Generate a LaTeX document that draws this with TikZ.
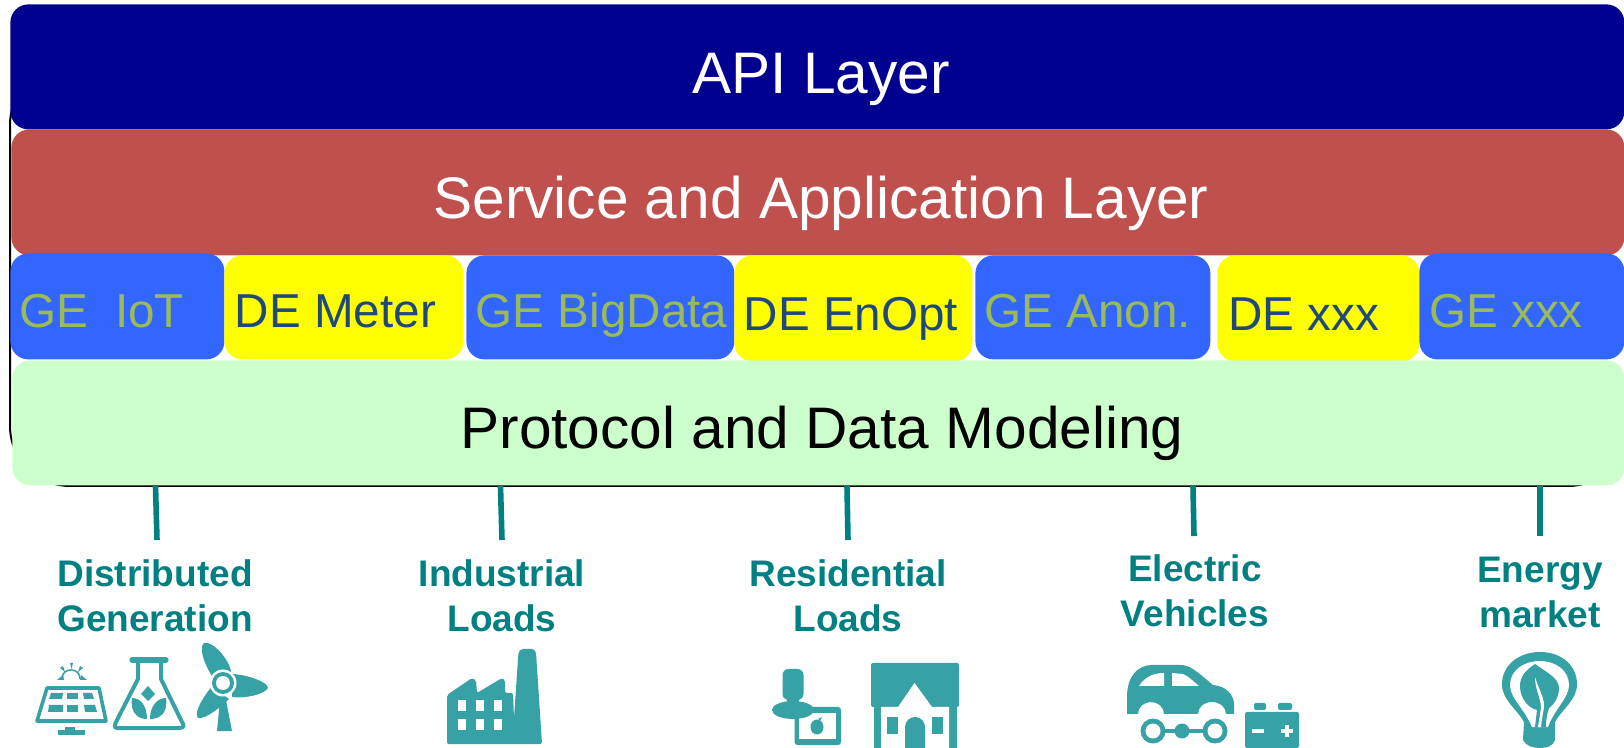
\documentclass[tikz,border=0pt]{standalone}
\usepackage{fontspec}
\setmainfont{Liberation Sans}
\definecolor{apiblue}{HTML}{000090}
\definecolor{svcred}{HTML}{C0504D}
\definecolor{geblue}{HTML}{3366FF}
\definecolor{deyellow}{HTML}{FFFF00}
\definecolor{protogreen}{HTML}{CCFFCC}
\definecolor{getext}{HTML}{9BBB59}
\definecolor{detext}{HTML}{1F497D}
\definecolor{teal1}{HTML}{008080}
\definecolor{icon}{HTML}{36A2A6}
\newcommand{\fs}[1]{\fontsize{#1}{#1}\selectfont}
\tikzset{
  x=0.5pt,y=-0.5pt,
  layer/.style={rectangle,rounded corners=9pt,inner sep=0pt,draw=none,minimum width=1pt},
  bigtext/.style={anchor=base,inner sep=0pt,font=\fs{29.3}},
  rowge/.style={anchor=base west,inner sep=0pt,font=\fs{23.8},text=getext},
  rowde/.style={anchor=base west,inner sep=0pt,font=\fs{23.8},text=detext},
  loadlabel/.style={align=center,inner sep=0pt,anchor=base,font=\fs{18.5}\bfseries,text=teal1},
  feeder/.style={draw=teal1,line width=2.8pt},
  icl/.style={draw=icon,fill=none,line width=2pt}
}
\newcommand{\layerbox}[6]{\node[layer,fill=#6,minimum width=#4*0.5pt,minimum height=#5*0.5pt,anchor=north west] (#1) at (#2,#3) {};}
\begin{document}
\begin{tikzpicture}
\useasboundingbox (0,0) rectangle (1624,748);
% outline behind the layers
\node[rectangle,draw=black,line width=1pt,rounded corners=30pt,fill=white,minimum width=1618*0.5pt,minimum height=421*0.5pt,anchor=north west,inner sep=0pt] (frame) at (9,64) {};
% layers
\layerbox{api}{10}{4}{1614}{125}{apiblue}
\layerbox{svc}{11}{129}{1613}{126}{svcred}
\layerbox{geiot}{10}{253}{214}{106}{geblue}
\layerbox{demeter}{224}{255}{239}{104}{deyellow}
\layerbox{gebig}{466}{255}{268}{104}{geblue}
\layerbox{deenopt}{734}{255}{238}{106}{deyellow}
\layerbox{geanon}{975}{255}{235}{104}{geblue}
\layerbox{dexxx}{1217}{255}{202}{106}{deyellow}
\layerbox{gexxx}{1419}{253}{205}{106}{geblue}
\layerbox{proto}{12}{360}{1612}{125}{protogreen}
% layer texts
\node[bigtext,text=white] (tapi) at (821,94) {API Layer};
\node[bigtext,text=white] (tsvc) at (821,219) {Service and Application Layer};
\node[bigtext,text=black] (tproto) at (822,449) {Protocol and Data Modeling};
\node[rowge] (t1) at (19.5,328) {GE\ \ IoT};
\node[rowde] (t2) at (234.5,328) {DE Meter};
\node[rowge] (t3) at (475.5,328) {GE BigData};
\node[rowde] (t4) at (743.5,331) {DE EnOpt};
\node[rowge] (t5) at (984,328) {GE Anon.};
\node[rowde] (t6) at (1228,331) {DE xxx};
\node[rowge] (t7) at (1429,328) {GE xxx};
% load labels
\node[loadlabel] (l1) at (155,632) {Distributed\\[4.3pt]Generation};
\node[loadlabel] (l2) at (502,632) {Industrial\\[4.3pt]Loads};
\node[loadlabel] (l3) at (848,632) {Residential\\[4.3pt]Loads};
\node[loadlabel] (l4) at (1195,627) {Electric\\[4.3pt]Vehicles};
\node[loadlabel] (l5) at (1540,628) {Energy\\[4.3pt]market};
% feeders
\coordinate (c1) at (155.5,486); \coordinate (d1) at (157,540);
\coordinate (c2) at (500.5,486); \coordinate (d2) at (502,540);
\coordinate (c3) at (847,486); \coordinate (d3) at (848,540);
\coordinate (c4) at (1193,486); \coordinate (d4) at (1194,536);
\coordinate (c5) at (1540,486); \coordinate (d5) at (1540,536);
\foreach \n in {1,...,5} \draw[feeder] (c\n) -- (d\n);
% solar panel
\draw[icl,line join=round,line width=1.8pt] (47,688) -- (99,688) -- (106,721) -- (37,721) -- cycle;
\foreach \xa/\xb/\xc/\xd/\ya/\yb in {51/63/62/49/693/699, 67/78/78/67/693/699, 83/92/94/84/693/699, 49/63/63/48/705/712, 67/78/78/67/705/712, 84/95/97/85/705/712}
  \fill[icon] (\xa,\ya) -- (\xb,\ya) -- (\xc,\yb) -- (\xd,\yb) -- cycle;
\fill[icon] (58,730) rectangle (85,735);
\fill[icon] (65,727) rectangle (75,731);
\draw[icon,line width=.8pt] (62,679) .. controls (62,673) and (66,670) .. (71,670) .. controls (76,670) and (80,673) .. (80,679);
\fill[icon] (70,663) -- (73,663) -- (71.5,669) -- cycle;
\fill[icon] (60,668) -- (63,666) -- (65,672) -- cycle;
\fill[icon] (80,666) -- (83,668) -- (78,672) -- cycle;
\fill[icon] (57,680) -- (63,675) -- (64,680) -- cycle;
\fill[icon] (87,680) -- (81,675) -- (80,680) -- cycle;
% flask
\draw[icl,line width=2pt,line join=round] (138,660) -- (138,679) -- (116,722) .. controls (113,729) and (116,728) .. (121,728) -- (178,728) .. controls (184,728) and (185,726) .. (182,722) -- (161,679) -- (161,660);
\draw[icon,line width=2.6pt,line cap=round] (132,660) -- (166,660);
\fill[icon] (148,686) -- (155,694) -- (148,701) -- (141,694) -- cycle;
\fill[icon] (132,698) .. controls (140,698) and (147,705) .. (147,719) .. controls (138,719) and (130,713) .. (132,698) -- cycle;
\fill[icon] (166,698) .. controls (158,698) and (150,705) .. (150,719) .. controls (160,719) and (168,713) .. (166,698) -- cycle;
% wind turbine
\fill[icon] (217,731) -- (220,700) -- (226,700) -- (232,731) -- cycle;
\fill[icon] (212,676) .. controls (203,662) and (199,647) .. (204,643) .. controls (212,640) and (230,660) .. (231,672) -- cycle;
\fill[icon] (233,674) .. controls (248,675) and (268,682) .. (268,688) .. controls (265,694) and (245,699) .. (232,697) -- cycle;
\fill[icon] (212,686) .. controls (205,695) and (193,712) .. (198,718) .. controls (205,720) and (222,706) .. (229,699) -- cycle;
\fill[white] (223,683) circle[radius=13.5];
\fill[icon] (223,683) circle[radius=11];
\fill[white] (223,683) circle[radius=7];
% factory
\fill[icon,rounded corners=1pt] (447,744) -- (447,695) -- (472,678) -- (476,680) -- (477,693) -- (502,678) -- (505,680) -- (505,693) -- (513,693) -- (514,718) -- (518.5,652) -- (521,649) -- (534,649) -- (536,652) -- (542,744) -- cycle;
\foreach \wx in {458,476,494} \foreach \wy in {700,719} \fill[white] (\wx,\wy) rectangle +(8,11);
% person with tablet
\fill[icon,rounded corners=3pt] (782.5,669) rectangle (803.5,700);
\fill[icon] (787,695) rectangle (799,705);
\fill[icon,rounded corners=1.5pt] (794.5,707) rectangle (841,745);
\fill[white] (799,713) rectangle (836,739);
\fill[icon] (793,710) ellipse[x radius=21,y radius=9];
\fill[icon] (817,727) ellipse[x radius=6.5,y radius=7.5];
\fill[icon] (818,719) -- (822,717) -- (820,721) -- cycle;
% house
\fill[icon,rounded corners=1pt] (871,663) rectangle (959,707);
\fill[icon] (874,705) rectangle (957,748);
\fill[white] (881,707) -- (898,707) -- (914.5,683) -- (932,707) -- (949,707) -- (949,748) -- (881,748) -- cycle;
\fill[icon] (887,717) rectangle (898,734);
\fill[icon] (932,717) rectangle (943,734);
\fill[icon] (905,748) -- (905,727) .. controls (905,721.5) and (909.5,717) .. (915,717) .. controls (920.5,717) and (925,721.5) .. (925,727) -- (925,748) -- cycle;
% car
\fill[icon] (1127,714) -- (1127,697) .. controls (1127,676) and (1138,665) .. (1152,665) -- (1180,665) .. controls (1190,665) and (1195,670) .. (1213,685) .. controls (1226,686) and (1234,695) .. (1234,704) -- (1234,714) -- (1226,714) .. controls (1226,707) and (1220,702) .. (1212,702) .. controls (1204,702) and (1198,707) .. (1198,714) -- (1164,714) .. controls (1164,707) and (1158,702) .. (1151,702) .. controls (1144,702) and (1138,707) .. (1138,714) -- cycle;
\fill[white] (1139,686) .. controls (1145,677) and (1153,673) .. (1164,673) -- (1164,686) -- cycle;
\fill[white] (1172,673) -- (1183,674) .. controls (1188,676) and (1193,681) .. (1199,686) -- (1172,686) -- cycle;
\draw[icon,line width=1.6pt] (1153,731) -- (1215,731);
\fill[icon] (1182,731) circle[radius=7.5];
\foreach \wx in {1153,1215} {\fill[icon] (\wx,731) circle[radius=12.5]; \fill[white] (\wx,731) circle[radius=7.5];}
% battery
\fill[icon,rounded corners=1pt] (1245,712) rectangle (1299,748);
\fill[icon,rounded corners=1pt] (1254,703) rectangle (1266,710);
\fill[icon,rounded corners=1pt] (1278,703) rectangle (1292,710);
\fill[white] (1252,729) rectangle (1264,733);
\fill[white] (1281,729) rectangle (1293,733);
\fill[white] (1285,725) rectangle (1289,737);
% light bulb
\fill[icon] (1540,652) .. controls (1518,652) and (1502,666) .. (1502,684) .. controls (1502,700) and (1516,708) .. (1524,722) -- (1523,740) .. controls (1526,746) and (1533,748) .. (1540,748) .. controls (1547,748) and (1553,746) .. (1555,740) -- (1555,722) .. controls (1563,708) and (1577,700) .. (1577,684) .. controls (1577,666) and (1562,652) .. (1540,652) -- cycle;
\fill[white] (1540,661) .. controls (1523,661) and (1510,671) .. (1510,685) .. controls (1510,698) and (1524,708) .. (1532,727) -- (1548,727) .. controls (1555,708) and (1569,698) .. (1569,685) .. controls (1569,671) and (1556,661) .. (1540,661) -- cycle;
\fill[icon] (1535,664) .. controls (1526,670) and (1520,676) .. (1520,686) .. controls (1520,698) and (1528,708) .. (1537,710) -- (1535,727) -- (1546,727) .. controls (1546,720) and (1547,714) .. (1549,708) .. controls (1555,704) and (1559,696) .. (1559,688) .. controls (1559,678) and (1546,672) .. (1535,664) -- cycle;
\fill[white] (1535,677) .. controls (1535,690) and (1541,698) .. (1541,708) -- (1538,727) -- (1541,727) .. controls (1542,716) and (1544,710) .. (1544,706) .. controls (1544,696) and (1538,688) .. (1535,677) -- cycle;
\end{tikzpicture}
\end{document}
